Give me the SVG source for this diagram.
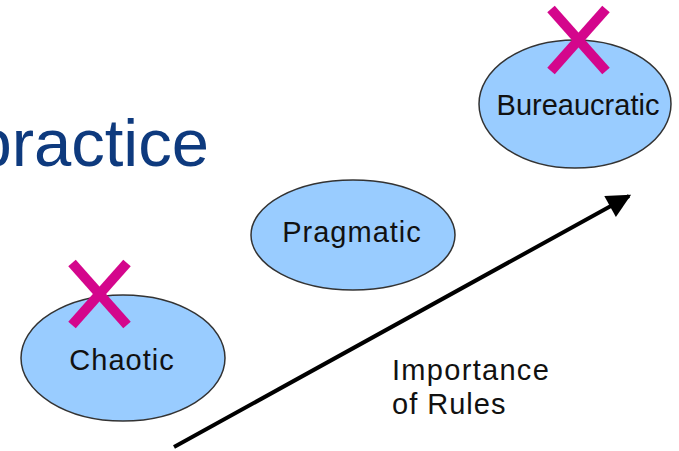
<svg xmlns="http://www.w3.org/2000/svg" width="679" height="451" viewBox="0 0 679 451">
  <style>
    .node ellipse { fill: #99ccff; stroke: #333333; stroke-width: 1.5; }
    .label { font-family: "Liberation Sans", Arial, sans-serif; font-size: 29px; fill: #111111; }
    .cross { stroke: #d4068c; stroke-width: 10; stroke-linecap: butt; }
    .title { font-family: "Liberation Sans", Arial, sans-serif; font-size: 67px; fill: #0e3a7e; }
  </style>
  <defs>
    <marker id="arrowhead" viewBox="0 0 10 10" refX="9" refY="5" markerWidth="7.5" markerHeight="6" markerUnits="strokeWidth" orient="auto">
      <path d="M0,0 L10,5 L0,10 z" fill="#000000"/>
    </marker>
  </defs>
  <rect width="679" height="451" fill="#ffffff"/>

  <!-- heading fragment -->
  <text class="title" x="209" y="166" text-anchor="end">practice</text>

  <!-- axis arrow -->
  <g id="connectors">
    <line x1="174" y1="447" x2="629" y2="196" stroke="#000000" stroke-width="4" marker-end="url(#arrowhead)"/>
  </g>

  <g id="chaotic" class="node">
    <ellipse cx="123" cy="358" rx="102" ry="63"/>
    <text class="label" x="122" y="370" text-anchor="middle" letter-spacing="1">Chaotic</text>
    <line class="cross" x1="72" y1="263" x2="127" y2="325"/>
    <line class="cross" x1="127" y1="263" x2="72" y2="325"/>
  </g>

  <g id="pragmatic" class="node">
    <ellipse cx="353" cy="235" rx="102" ry="55"/>
    <text class="label" x="352" y="242" text-anchor="middle" letter-spacing="1">Pragmatic</text>
  </g>

  <g id="bureaucratic" class="node">
    <ellipse cx="575" cy="104" rx="96" ry="64"/>
    <text class="label" x="578" y="115" text-anchor="middle">Bureaucratic</text>
    <line class="cross" x1="551" y1="9" x2="606" y2="71"/>
    <line class="cross" x1="606" y1="9" x2="551" y2="71"/>
  </g>

  <g id="axis-label">
    <text class="label" x="392" y="380" letter-spacing="1.3">Importance</text>
    <text class="label" x="392" y="414" letter-spacing="1">of Rules</text>
  </g>
</svg>
